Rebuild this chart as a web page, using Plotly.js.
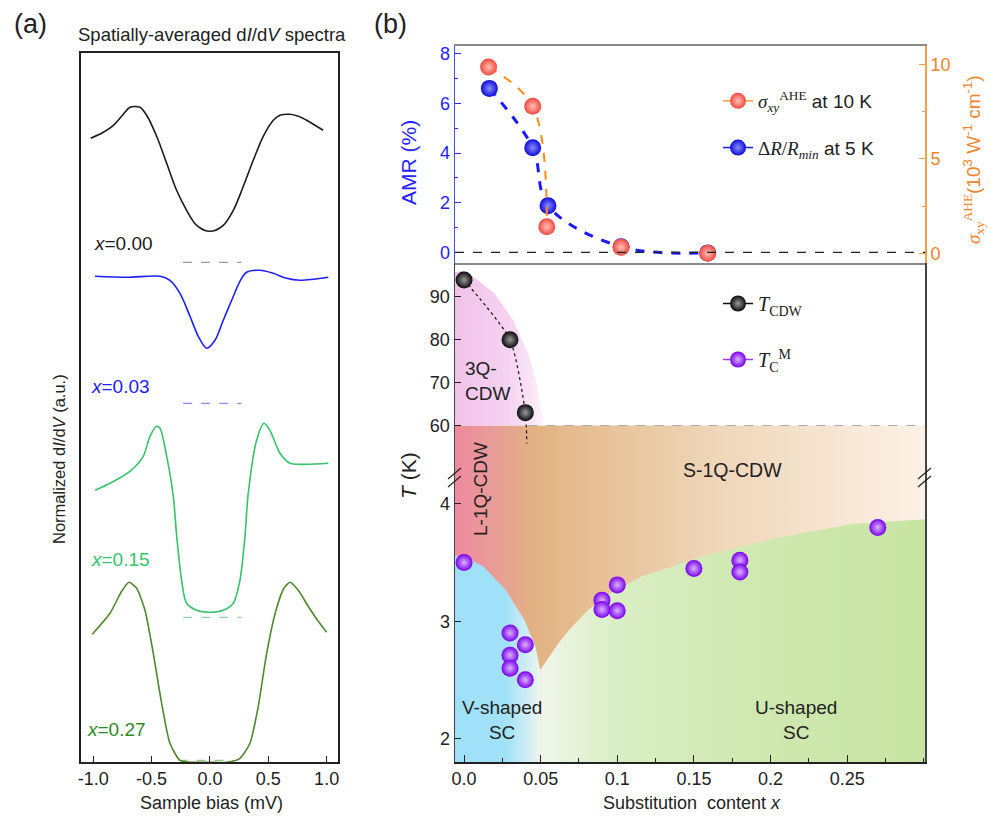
<!DOCTYPE html>
<html><head><meta charset="utf-8">
<script src="https://cdn.plot.ly/plotly-3.0.1.min.js"></script>
<style>html,body{margin:0;padding:0;background:#fff}#chart{width:991px;height:820px}</style>
</head><body><div id="chart"></div>
<script>
// ---------- Panel (a): spatially averaged dI/dV spectra (a.u., offset) ----------
const biasBlack = [-1.022,-0.914,-0.828,-0.743,-0.686,-0.600,-0.543,-0.457,-0.371,-0.286,-0.200,-0.114,0,0.114,0.200,0.286,0.371,0.457,0.543,0.600,0.686,0.757,0.829,0.914,0.971];
const didvBlack = [6.24,6.30,6.37,6.48,6.55,6.55,6.47,6.26,5.99,5.72,5.52,5.37,5.31,5.37,5.52,5.76,6.02,6.26,6.42,6.47,6.48,6.46,6.42,6.36,6.32];
const biasBlue = [-0.985,-0.714,-0.428,-0.343,-0.257,-0.171,-0.100,-0.028,0.043,0.114,0.186,0.257,0.314,0.428,0.542,0.657,0.771,0.885,1.014];
const didvBlue = [4.86,4.85,4.86,4.82,4.69,4.46,4.26,4.14,4.22,4.42,4.62,4.81,4.90,4.92,4.89,4.84,4.82,4.83,4.85];
const biasGreen = [-0.985,-0.857,-0.686,-0.572,-0.514,-0.457,-0.428,-0.371,-0.314,-0.285,-0.243,-0.200,-0.114,0,0.114,0.200,0.257,0.300,0.328,0.400,0.463,0.514,0.600,0.686,0.829,1.014];
const didvGreen = [2.72,2.79,2.91,3.06,3.26,3.36,3.34,3.06,2.66,2.26,1.82,1.59,1.52,1.50,1.52,1.59,1.82,2.26,2.69,3.22,3.39,3.32,3.09,2.99,2.98,2.99];
const biasDkGreen = [-1.009,-0.857,-0.757,-0.694,-0.628,-0.557,-0.486,-0.414,-0.343,-0.257,-0.143,0,0.143,0.257,0.343,0.414,0.486,0.566,0.634,0.686,0.757,0.842,0.928,1.000];
const didvDkGreen = [1.28,1.49,1.71,1.80,1.74,1.52,1.09,0.59,0.19,0.02,0.00,0.00,0.00,0.04,0.19,0.56,1.09,1.52,1.74,1.80,1.72,1.56,1.41,1.30];
const spectraLabels = ['<i>x</i>=0.00','<i>x</i>=0.03','<i>x</i>=0.15','<i>x</i>=0.27'];
const zeroLevels = [5.00, 3.59, 1.45, 0.02];
const zeroBiasStart = [-0.23,-0.23,-0.23,-0.27];
const zeroBiasEnd = [0.27,0.27,0.27,0.21];
const biasTicks = [-1,-0.5,0,0.5,1];
const biasTickText = ['-1.0','-0.5','0.0','0.5','1.0'];

// ---------- Panel (b) top: AMR and AHE ----------
const amrX = [0.0165,0.0448,0.0548,0.1025,0.159];
const amrVals = [6.61,4.22,1.88,0.23,-0.02];
const aheX = [0.016,0.0448,0.054,0.1025,0.159];
const aheVals = [9.87,7.79,1.41,0.32,0.0];
const aheFitCount = 3;

// ---------- Panel (b) middle: T_CDW ----------
const cdwX = [0.0,0.03,0.040];
const cdwT = [93.9,80.0,63.0];
const cdwGuideX = [0.0,0.03,0.040,0.041];
const cdwGuideT = [93.9,80.0,63.0,55.8];
const cdwLowT = 60;
const pinkBoundX = [-0.0059,0.0,0.0074,0.0197,0.032,0.0419,0.048,0.0516,0.053];
const pinkBoundT = [95.8,96.0,94.3,90.8,84.6,76.8,69.0,61.3,60];

// ---------- Panel (b) bottom: T_C^M ----------
const tcX = [0.0,0.03,0.04,0.03,0.03,0.04,0.09,0.09,0.10,0.10,0.15,0.18,0.18,0.27];
const tcT = [3.50,2.90,2.80,2.71,2.60,2.50,3.18,3.10,3.31,3.09,3.45,3.52,3.42,3.80];
const vBoundX = [-0.0059,0.0,0.0123,0.027,0.0394,0.0467,0.0497];
const vBoundT = [3.56,3.55,3.47,3.27,3.01,2.78,2.585];
const uBoundX = [0.0497,0.0615,0.0688,0.0812,0.0959,0.1155,0.1548,0.204,0.253,0.301];
const uBoundT = [2.585,2.81,2.93,3.10,3.24,3.38,3.55,3.71,3.83,3.87];
const subTicks = [0,0.05,0.1,0.15,0.2,0.25];
const subTickText = ['0.0','0.05','0.1','0.15','0.2','0.25'];

// ---------- ranges ----------
const xMin = -0.0059, xMax = 0.301;
const midRange = [48, 97.8];
const lowRange = [1.797, 4.23];

const W = 991, H = 820;
const px = v => v / W;
const py = v => 1 - v / H;
const FONT = 'Liberation Sans, Arial, sans-serif';

const specColors = ['#1c1c1c','#2020ff','#34c46c','#4e8a2c'];
const labelColors = ['#1c1c1c','#2020ff','#34c46c','#2f8a1f'];
const zeroColors = ['#9a9a9a','#8a8aff','#8ed8a8','#9cc77e'];
const specSmooth = [0.9, 0.9, 0.8, 0.6];
const biasSets = [biasBlack,biasBlue,biasGreen,biasDkGreen];
const didvSets = [didvBlack,didvBlue,didvGreen,didvDkGreen];
const labelBias = [-0.743,-0.771,-0.771,-0.80];
const labelLevel = [5.19,3.76,2.03,0.33];

const traces = [];
for (let i = 0; i < 4; i++) {
  traces.push({x: [zeroBiasStart[i], zeroBiasEnd[i]], y: [zeroLevels[i], zeroLevels[i]], xaxis:'x', yaxis:'y',
    mode:'lines', line:{color: zeroColors[i], width:1.3, dash:'dash'}, showlegend:false, hoverinfo:'skip'});
  traces.push({x: biasSets[i], y: didvSets[i], xaxis:'x', yaxis:'y', mode:'lines',
    line:{color: specColors[i], width:1.6, shape:'spline', smoothing: specSmooth[i]}, showlegend:false});
}

// tan background (below 60 K) in middle and low panels
const tanScale = [[0,'#ef8aa0'],[0.08,'#e99c98'],[0.17,'#e2b282'],[0.3,'#e7c096'],[0.55,'#eed6b8'],[0.8,'#f6e5d2'],[1,'#fcf1e6']];
traces.push({x:[xMin,xMax,xMax,xMin,xMin], y:[midRange[0],midRange[0],cdwLowT,cdwLowT,midRange[0]], xaxis:'x3', yaxis:'y4',
  mode:'lines', line:{width:0}, fill:'toself', fillcolor:'#e8c9a5',
  fillgradient:{type:'horizontal', colorscale: tanScale, start:xMin, stop:xMax}, showlegend:false, hoverinfo:'skip'});
traces.push({x:[xMin,xMax,xMax,xMin,xMin], y:[lowRange[0],lowRange[0],lowRange[1],lowRange[1],lowRange[0]], xaxis:'x4', yaxis:'y5',
  mode:'lines', line:{width:0}, fill:'toself', fillcolor:'#e8c9a5',
  fillgradient:{type:'horizontal', colorscale: tanScale, start:xMin, stop:xMax}, showlegend:false, hoverinfo:'skip'});
// pink 3Q-CDW
traces.push({x: pinkBoundX.concat([xMin]), y: pinkBoundT.concat([cdwLowT]), xaxis:'x3', yaxis:'y4',
  mode:'lines', line:{width:0}, fill:'toself', fillcolor:'#f5d0ee',
  fillgradient:{type:'horizontal', colorscale:[[0,'#f2c2ea'],[0.6,'#f5d3f0'],[0.85,'#f9e5f6'],[1,'#fdf6fc']], start:xMin, stop:0.053},
  showlegend:false, hoverinfo:'skip'});
// V-shaped SC (blue)
const vEnd = vBoundX[vBoundX.length-1];
traces.push({x: vBoundX.concat([vEnd, xMin]), y: vBoundT.concat([lowRange[0], lowRange[0]]), xaxis:'x4', yaxis:'y5',
  mode:'lines', line:{width:0}, fill:'toself', fillcolor:'#a0e2f8',
  fillgradient:{type:'horizontal', colorscale:[[0,'#9de0f8'],[0.6,'#a2e2f8'],[0.85,'#d0edf4'],[1,'#eef5ec']], start:xMin, stop:vEnd},
  showlegend:false, hoverinfo:'skip'});
// U-shaped SC (green)
const uStart = uBoundX[0];
traces.push({x: uBoundX.concat([xMax, uStart]), y: uBoundT.concat([lowRange[0], lowRange[0]]), xaxis:'x4', yaxis:'y5',
  mode:'lines', line:{width:0}, fill:'toself', fillcolor:'#d0e9b3',
  fillgradient:{type:'horizontal', colorscale:[[0,'#f0f6ea'],[0.2,'#d9eec4'],[0.5,'#d0e9b3'],[1,'#c8e4a2']], start:uStart, stop:xMax},
  showlegend:false, hoverinfo:'skip'});

// top panel fits and points
traces.push({x: aheX.slice(0,aheFitCount), y: aheVals.slice(0,aheFitCount), xaxis:'x2', yaxis:'y3', mode:'lines',
  line:{color:'#ff8c1a', width:2, dash:'dash', shape:'spline', smoothing:1}, showlegend:false, hoverinfo:'skip'});
traces.push({x: amrX, y: amrVals, xaxis:'x2', yaxis:'y2', mode:'lines',
  line:{color:'#1a1aff', width:3, dash:'dash', shape:'spline', smoothing:1}, showlegend:false, hoverinfo:'skip'});
const ball = (c, g) => ({size:17, color:c, line:{width:0}, gradient:{type:'radial', color:g}});
traces.push({x: aheX, y: aheVals, xaxis:'x2', yaxis:'y3', mode:'markers', marker: ball('#ef4a40','#ffc0b8'), showlegend:false});
traces.push({x: amrX, y: amrVals, xaxis:'x2', yaxis:'y2', mode:'markers', marker: ball('#0c0cd8','#8c8cff'), showlegend:false});

// middle
traces.push({x: cdwGuideX, y: cdwGuideT, xaxis:'x3', yaxis:'y4', mode:'lines',
  line:{color:'#222', width:1.3, dash:'dot', shape:'spline', smoothing:0.6}, showlegend:false, hoverinfo:'skip'});
traces.push({x: cdwX, y: cdwT, xaxis:'x3', yaxis:'y4', mode:'markers', marker: ball('#0a0a0a','#9a9a9a'), showlegend:false});
// bottom
traces.push({x: tcX, y: tcT, xaxis:'x4', yaxis:'y5', mode:'markers', marker: ball('#7a00ee','#dcb4ff'), showlegend:false});

// legend-only entries
traces.push({x:[null], y:[null], xaxis:'x2', yaxis:'y2', mode:'lines+markers', legend:'legend', legendgroup:'a',
  name:'<span style="font-family:Liberation Serif"><i>σ</i><sub><i>xy</i></sub><sup>AHE</sup></span> at 10 K',
  line:{color:'#ff9a40', width:1.5}, marker: ball('#ef4a40','#ffc0b8')});
traces.push({x:[null], y:[null], xaxis:'x2', yaxis:'y2', mode:'lines+markers', legend:'legend', legendgroup:'b',
  name:'<span style="font-family:Liberation Serif">Δ<i>R</i>/<i>R</i><sub><i>min</i></sub></span> at 5 K',
  line:{color:'#1a1aff', width:1.5}, marker: ball('#0c0cd8','#8c8cff')});
traces.push({x:[null], y:[null], xaxis:'x3', yaxis:'y4', mode:'lines+markers', legend:'legend2', legendgroup:'c',
  name:'<span style="font-family:Liberation Serif"><i>T</i><sub>CDW</sub></span>',
  line:{color:'#111', width:1.5}, marker: ball('#0a0a0a','#9a9a9a')});
traces.push({x:[null], y:[null], xaxis:'x4', yaxis:'y5', mode:'lines+markers', legend:'legend2', legendgroup:'d',
  name:'<span style="font-family:Liberation Serif"><i>T</i><sub>C</sub><sup>M</sup></span>',
  line:{color:'#a040e0', width:1.5}, marker: ball('#7a00ee','#dcb4ff')});

const bDomX = [px(455), px(925.3)];
const tickFont = {family: FONT, size: 18, color:'#222'};
const layout = {
  width: W, height: H, margin:{l:0,r:0,t:0,b:0}, paper_bgcolor:'#fff', plot_bgcolor:'rgba(0,0,0,0)',
  font:{family: FONT, color:'#222'},
  xaxis:{domain:[px(80.7), px(338.3)], range:[-1.108,1.10], anchor:'y', tickmode:'array', tickvals: biasTicks, ticktext: biasTickText,
    ticks:'inside', ticklen:6, tickcolor:'#222', showline:true, mirror:true, linecolor:'#222', linewidth:1.5,
    showgrid:false, zeroline:false, tickfont: tickFont},
  yaxis:{domain:[py(762.3), py(52.7)], range:[0,7.096], anchor:'x', showticklabels:false, ticks:'', showline:true, mirror:true,
    linecolor:'#222', linewidth:1.5, showgrid:false, zeroline:false},
  xaxis2:{domain:bDomX, range:[xMin,xMax], anchor:'y2', showticklabels:false, ticks:'', showline:true, mirror:true,
    linecolor:'#8a8a8a', linewidth:1.5, showgrid:false, zeroline:false},
  yaxis2:{domain:[py(263.3), py(45.7)], range:[-0.44,8.33], anchor:'x2', tickmode:'array', tickvals:[0,2,4,6,8],
    ticks:'inside', ticklen:6, tickcolor:'#2a2aff', showline:true, linecolor:'#4a4aff', linewidth:1.5,
    minor:{dtick:1, tick0:0, ticks:'inside', ticklen:3, tickcolor:'#2a2aff'},
    showgrid:false, zeroline:false, tickfont:{family:FONT, size:18, color:'#2323ff'}},
  yaxis3:{domain:[py(263.3), py(45.7)], range:[-0.53,11.0], overlaying:'y2', side:'right', anchor:'x2', tickmode:'array', tickvals:[0,5,10],
    ticks:'inside', ticklen:6, tickcolor:'#f7a04a', showline:true, linecolor:'#f7a04a', linewidth:1.5,
    minor:{dtick:2.5, tick0:0, ticks:'inside', ticklen:3, tickcolor:'#f7a04a'},
    showgrid:false, zeroline:false, tickfont:{family:FONT, size:18, color:'#f0832c'}},
  xaxis3:{domain:bDomX, range:[xMin,xMax], anchor:'y4', showticklabels:false, ticks:'', showline:false, showgrid:false, zeroline:false},
  yaxis4:{domain:[py(477), py(263.3)], range:midRange, anchor:'x3', tickmode:'array', tickvals:[60,70,80,90],
    ticks:'inside', ticklen:6, tickcolor:'#222', showline:true, mirror:true, linecolor:'#444', linewidth:1.5,
    showgrid:false, zeroline:false, tickfont: tickFont},
  xaxis4:{domain:bDomX, range:[xMin,xMax], anchor:'y5', tickmode:'array', tickvals: subTicks, ticktext: subTickText,
    ticks:'inside', ticklen:7, tickcolor:'#222', showline:true, linecolor:'#222', linewidth:1.5,
    minor:{dtick:0.025, tick0:0, ticks:'inside', ticklen:4, tickcolor:'#222'},
    showgrid:false, zeroline:false, tickfont: tickFont},
  yaxis5:{domain:[py(762.3), py(477)], range:lowRange, anchor:'x4', tickmode:'array', tickvals:[2,3,4],
    ticks:'inside', ticklen:6, tickcolor:'#222', showline:true, mirror:true, linecolor:'#444', linewidth:1.5,
    showgrid:false, zeroline:false, tickfont: tickFont},
  legend:{x: px(718), y: py(82), xanchor:'left', yanchor:'top', bgcolor:'rgba(0,0,0,0)', borderwidth:0,
    font:{family:FONT, size:19, color:'#222'}, tracegroupgap:19, itemsizing:'trace'},
  legend2:{x: px(718), y: py(284), xanchor:'left', yanchor:'top', bgcolor:'rgba(0,0,0,0)', borderwidth:0,
    font:{family:FONT, size:20, color:'#222'}, tracegroupgap:27, itemsizing:'trace'},
  shapes:[
    {type:'line', xref:'x2 domain', x0:0, x1:1, yref:'y2', y0:0, y1:0, line:{color:'#222', width:1.2, dash:'dash'}},
    {type:'line', xref:'x3', x0:0.042, x1:xMax, yref:'y4', y0:cdwLowT, y1:cdwLowT, line:{color:'#aaa', width:1.2, dash:'dash'}, layer:'above'},
    {type:'line', xref:'paper', yref:'paper', x0:px(448), y0:py(479), x1:px(461), y1:py(468), line:{color:'#222', width:1.2}},
    {type:'line', xref:'paper', yref:'paper', x0:px(448), y0:py(487), x1:px(461), y1:py(476), line:{color:'#222', width:1.2}},
    {type:'line', xref:'paper', yref:'paper', x0:px(918), y0:py(479), x1:px(931), y1:py(468), line:{color:'#222', width:1.2}},
    {type:'line', xref:'paper', yref:'paper', x0:px(918), y0:py(487), x1:px(931), y1:py(476), line:{color:'#222', width:1.2}}
  ],
  annotations:[]
};
const ann = (x, y, text, opt) => Object.assign({xref:'paper', yref:'paper', x:px(x), y:py(y), text:text, showarrow:false,
  xanchor:'center', yanchor:'middle', font:{family:FONT, size:18, color:'#222'}}, opt || {});
layout.annotations.push(
  ann(30, 24, '(a)', {font:{family:FONT, size:27, color:'#222'}}),
  ann(390, 24, '(b)', {font:{family:FONT, size:27, color:'#222'}}),
  ann(212, 34, 'Spatially-averaged d<i>I</i>/d<i>V</i> spectra', {font:{family:FONT, size:18.5, color:'#222'}}),
  ann(59, 459, 'Normalized d<i>I</i>/d<i>V</i> (a.u.)', {textangle:-90, font:{family:FONT, size:16.5, color:'#222'}}),
  ann(211, 803, 'Sample bias (mV)', {font:{family:FONT, size:18, color:'#222'}}),
  ann(692, 803, 'Substitution  content <i>x</i>', {font:{family:FONT, size:18, color:'#222'}}),
  ann(409, 163, 'AMR (%)', {textangle:-90, font:{family:FONT, size:21, color:'#2323ff'}}),
  ann(409, 476, '<i>T</i> (K)', {textangle:-90, font:{family:FONT, size:21, color:'#222'}}),
  ann(974, 160, '<span style="font-family:Liberation Serif"><i>σ</i><sub>xy</sub><sup>AHE</sup></span>(10<sup>3</sup> W<sup>-1</sup> cm<sup>-1</sup>)',
     {textangle:-90, font:{family:FONT, size:19, color:'#f0832c'}}),
  ann(487, 381, '3Q-<br>CDW', {align:'left', font:{family:FONT, size:19, color:'#222'}}),
  ann(480, 489, 'L-1Q-CDW', {textangle:-90, font:{family:FONT, size:19, color:'#222'}}),
  ann(732.5, 470, 'S-1Q-CDW', {font:{family:FONT, size:19.5, color:'#222'}}),
  ann(502.5, 720, 'V-shaped<br>SC', {font:{family:FONT, size:19, color:'#222'}}),
  ann(795.8, 720, 'U-shaped<br>SC', {font:{family:FONT, size:19, color:'#222'}})
);
for (let i = 0; i < 4; i++) {
  layout.annotations.push({xref:'x', yref:'y', x: labelBias[i], y: labelLevel[i], text: spectraLabels[i], showarrow:false,
    xanchor:'center', yanchor:'middle', font:{family:FONT, size:19, color: labelColors[i]}});
}
Plotly.newPlot('chart', traces, layout, {staticPlot:true, displayModeBar:false});
</script></body></html>
